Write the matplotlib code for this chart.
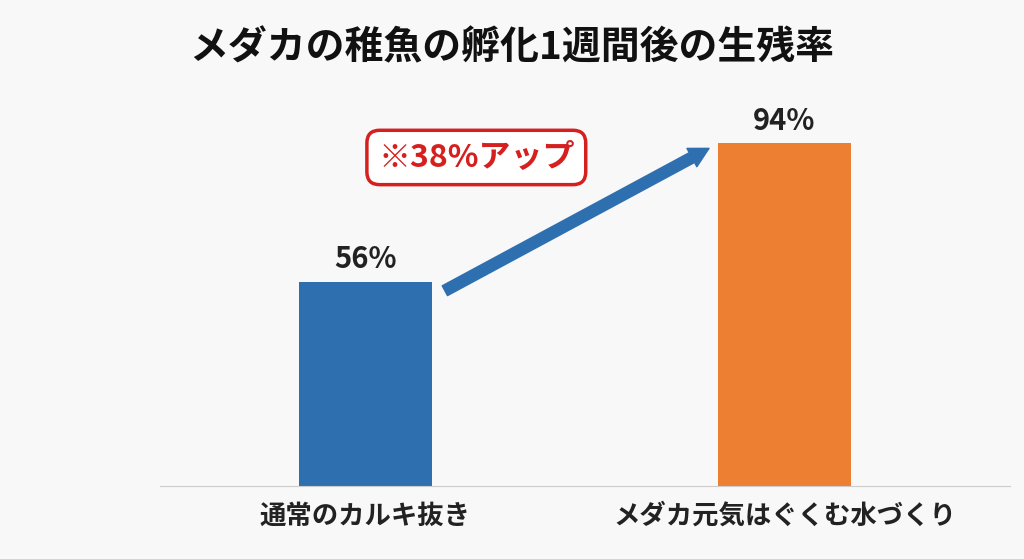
import matplotlib.pyplot as plt

plt.rcParams['font.family'] = ['Noto Sans CJK JP', 'DejaVu Sans']

categories = ['通常のカルキ抜き', 'メダカ元気はぐくむ水づくり']
values = [56, 94]
colors = ['#2e6fb0', '#ec7f32']
title = 'メダカの稚魚の孵化1週間後の生残率'
note = '※38%アップ'

fig = plt.figure(figsize=(10.24, 5.59), dpi=100)
fig.patch.set_facecolor('#f8f8f8')
ax = fig.add_axes([0.156, 0.1306, 0.830, 0.653])
ax.set_facecolor('#f8f8f8')

x = list(range(len(values)))
ax.bar(x, values, width=0.317, color=colors, zorder=2)
for xi, v in zip(x, values):
    ax.text(xi, v + 2, f'{v}%', ha='center', va='bottom', fontsize=21, fontweight='bold', color='#222222')

ax.set_xlim(-0.49, 1.537)
ax.set_ylim(0, 100)
ax.set_xticks(x)
ax.set_xticklabels(categories, fontsize=19, fontweight='bold', color='#222222')
ax.tick_params(axis='x', length=0, pad=12)
ax.set_yticks([])
for s in ['top', 'right', 'left']:
    ax.spines[s].set_visible(False)
ax.spines['bottom'].set_color('#cccccc')

# arrow
ax.annotate('', xy=(0.82, 92.5), xytext=(0.19, 53.5),
            arrowprops=dict(arrowstyle='simple,head_length=1.4,head_width=1.5,tail_width=0.8',
                            color='#2e6fb0', shrinkA=0, shrinkB=0))
ax.text(0.265, 90, note, ha='center', va='center', fontsize=23, fontweight='bold', color='#d62020',
        bbox=dict(boxstyle='round,pad=0.35,rounding_size=0.4', fc='white', ec='#d62020', lw=2.5))

fig.text(0.5, 0.915, title, ha='center', va='center', fontsize=28, fontweight='bold', color='#111111')

fig.savefig('out.png', dpi=100, facecolor=fig.get_facecolor())
